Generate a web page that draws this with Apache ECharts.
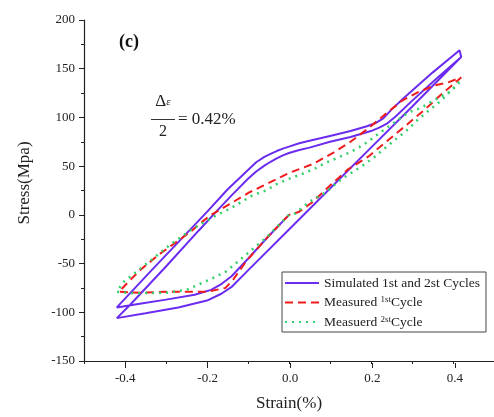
<!DOCTYPE html>
<html><head><meta charset="utf-8">
<script src="https://cdn.jsdelivr.net/npm/echarts@6/dist/echarts.min.js"></script>
<style>html,body{margin:0;padding:0;background:#fff}#c{width:494px;height:417px}</style>
</head><body><div id="c"></div>
<script>
// Simulated 1st and 2nd cycles (one continuous path)
const simX = [0, -0.05, -0.1, -0.14, -0.165, -0.19, -0.23, -0.3, -0.36, -0.42,
  -0.4, -0.34, -0.27, -0.2, -0.15, -0.1, -0.08, -0.06, -0.045, -0.03, -0.015, 0, 0.025, 0.05, 0.1, 0.15, 0.19, 0.21, 0.23, 0.25, 0.28, 0.35, 0.416,
  0.42, 0.3, 0.2, 0.1, 0, -0.1, -0.14, -0.165, -0.2, -0.27, -0.35, -0.42,
  -0.388, -0.3, -0.22, -0.178, -0.14, -0.1, -0.08, -0.06, -0.045, -0.03, -0.015, 0, 0.025, 0.05, 0.1, 0.15, 0.2, 0.22, 0.24, 0.26, 0.3, 0.36, 0.42];
const simY = [0, -22, -45, -63, -71, -77, -82, -87, -91, -95,
  -86, -59, -28, 3, 26, 46, 54, 59.5, 62.5, 65.5, 68, 70, 73.5, 76, 81, 86, 91, 94, 99, 108, 120, 146, 169,
  162, 111, 69, 27, -15, -57, -74, -81, -88, -95, -101, -106,
  -92.5, -53, -16, 3, 20, 37, 44.5, 50.5, 54.5, 58, 61, 63.5, 66.5, 69, 75, 80, 86, 89.5, 94, 101, 117, 140, 162];
// Measured 1st cycle
const m1X = [0, -0.057, -0.105, -0.137, -0.155, -0.2, -0.3, -0.36, -0.415,
  -0.39, -0.364, -0.315, -0.242, -0.194, -0.145, -0.097, -0.048, 0, 0.057, 0.105, 0.15, 0.194, 0.234, 0.275, 0.315, 0.356, 0.388, 0.42,
  0.37, 0.331, 0.283, 0.234, 0.194, 0.145, 0.105, 0.057, 0.024, 0];
const m1Y = [0, -25, -48, -67, -75, -79, -79, -80, -79,
  -68, -57, -40, -18, -1, 11, 23, 33, 43, 52, 63, 75, 89, 103, 117, 126, 133, 136, 141,
  123, 108, 91, 74, 60, 47, 32, 13, 3, 0];
// Measured 2nd cycle
const m2X = [0, -0.024, -0.057, -0.105, -0.153, -0.186, -0.218, -0.25, -0.3, -0.38, -0.42,
  -0.404, -0.347, -0.291, -0.234, -0.175, -0.145, -0.117, -0.089, -0.057, -0.028, 0, 0.032, 0.065, 0.093, 0.121, 0.153, 0.182, 0.234, 0.291, 0.323, 0.347, 0.372, 0.396, 0.412, 0.42,
  0.37, 0.315, 0.291, 0.25, 0.21, 0.178, 0.129, 0.089, 0.048, 0.008];
const m2Y = [0, -10, -24, -41, -58, -65, -71, -77, -80, -80.5, -79,
  -69, -50, -31, -14, 0, 6, 13, 20, 25, 32, 37, 42, 48, 54, 59, 65, 72, 88, 105, 110, 116, 122, 127, 135, 138,
  117, 98, 88, 74, 60, 50, 37, 23, 13, -1];
const xTicksMajor = [-0.4, -0.2, 0.0, 0.2, 0.4];
const seriesNames = ['Simulated 1st and 2st Cycles', 'Measured 1stCycle', 'Measuerd 2stCycle'];

const F = 'Liberation Serif';
const P = '#6b2cf0', R = '#f01c1c', G = '#33cf6a';
const pair = (xs, ys) => xs.map((x, i) => [x, ys[i]]);
const chart = echarts.init(document.getElementById('c'));
chart.setOption({
  animation: false,
  grid: [
    {left: 84, right: -2, top: 20, bottom: 54},
    {left: 125.2, right: 39.2, top: 20, bottom: 54}
  ],
  xAxis: [
    {gridIndex: 0, type: 'value', min: -0.5, max: 0.5, interval: 0.1,
      axisLine: {show: true, onZero: false, lineStyle: {color: '#222', width: 1.2}},
      axisTick: {show: true, length: 3, lineStyle: {color: '#222'}},
      axisLabel: {show: false}, splitLine: {show: false},
      name: 'Strain(%)', nameLocation: 'middle', nameGap: 34,
      nameTextStyle: {fontFamily: F, fontSize: 17, color: '#222'}},
    {gridIndex: 1, type: 'value', min: xTicksMajor[0], max: xTicksMajor[xTicksMajor.length - 1], interval: 0.2,
      axisLine: {show: false, onZero: false},
      axisTick: {show: true, length: 5, lineStyle: {color: '#222'}},
      axisLabel: {fontFamily: F, fontSize: 13, color: '#222', margin: 9,
        formatter: v => Math.abs(v) < 1e-9 ? '0.0' : v.toFixed(1)},
      splitLine: {show: false}}
  ],
  yAxis: [
    {gridIndex: 0, type: 'value', min: -150, max: 200, interval: 50,
      axisLine: {show: true, onZero: false, lineStyle: {color: '#222', width: 1.2}},
      axisTick: {show: true, length: 5, lineStyle: {color: '#222'}},
      minorTick: {show: true, splitNumber: 2, length: 3, lineStyle: {color: '#222'}},
      axisLabel: {fontFamily: F, fontSize: 13, color: '#222', margin: 9},
      splitLine: {show: false}},
    {gridIndex: 1, type: 'value', min: -150, max: 200, show: false}
  ],
  legend: {
    orient: 'vertical', left: 282, top: 272, padding: [4, 6, 3, 2],
    itemGap: 5.5, itemWidth: 34, itemHeight: 14,
    borderColor: '#444', borderWidth: 1, backgroundColor: '#fff',
    itemStyle: {opacity: 0},
    data: seriesNames,
    textStyle: {fontFamily: F, fontSize: 13.5, color: '#222',
      rich: {sup: {fontFamily: F, fontSize: 9, color: '#222', verticalAlign: 'top'}}},
    formatter: n => n === seriesNames[1] ? 'Measured {sup|1st}Cycle'
      : n === seriesNames[2] ? 'Measuerd {sup|2st}Cycle' : n
  },
  series: [
    {type: 'line', name: seriesNames[0], data: pair(simX, simY), symbol: 'none',
      lineStyle: {color: P, width: 2}, itemStyle: {color: P}, z: 3},
    {type: 'line', name: seriesNames[1], data: pair(m1X, m1Y), symbol: 'none',
      lineStyle: {color: R, width: 2, type: [8, 5]}, itemStyle: {color: R}, z: 4},
    {type: 'line', name: seriesNames[2], data: pair(m2X, m2Y), symbol: 'none',
      lineStyle: {color: G, width: 2.5, type: [2, 5]}, itemStyle: {color: G}, z: 4}
  ],
  graphic: [
    {type: 'text', x: 25, y: 183, rotation: Math.PI / 2,
      style: {text: 'Stress(Mpa)', fontFamily: F, fontSize: 17, fill: '#222', align: 'center', verticalAlign: 'middle'}},
    {type: 'text', x: 129, y: 42,
      style: {text: '(c)', fontFamily: F, fontSize: 18, fontWeight: 'bold', fill: '#111', align: 'center', verticalAlign: 'middle'}},
    {type: 'text', x: 163, y: 102,
      style: {text: '{d|Δ}{e|ε}', fill: '#222', align: 'center', verticalAlign: 'middle',
        rich: {d: {fontFamily: F, fontSize: 17, fill: '#222'}, e: {fontFamily: F, fontSize: 11, fontStyle: 'italic', fill: '#222'}}}},
    {type: 'line', shape: {x1: 151, y1: 119.5, x2: 175, y2: 119.5}, style: {stroke: '#333', lineWidth: 1}},
    {type: 'text', x: 163, y: 132,
      style: {text: '2', fontFamily: F, fontSize: 16, fill: '#222', align: 'center', verticalAlign: 'middle'}},
    {type: 'text', x: 178, y: 120,
      style: {text: '= 0.42%', fontFamily: F, fontSize: 17, fill: '#222', align: 'left', verticalAlign: 'middle'}}
  ]
});
</script></body></html>
